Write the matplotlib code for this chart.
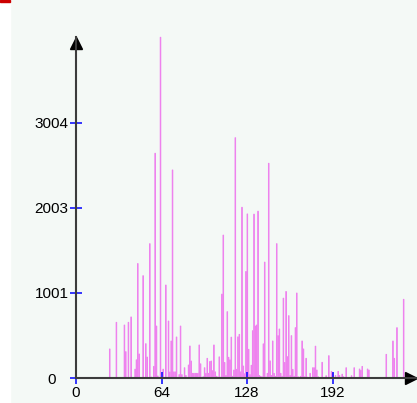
import matplotlib.pyplot as plt
import numpy as np

# histograma: nivel de gris -> cuenta (solo los niveles distintos de cero)
niveles = [25, 30, 36, 37, 39, 41, 44, 45, 46, 47, 50, 52, 53, 55, 56, 58, 59, 60, 61,
           63, 65, 67, 69, 70, 71, 72, 73, 74, 75, 77, 78, 79, 81, 82, 84, 85, 86,
           87, 88, 89, 90, 91, 92, 93, 94, 95, 96, 97, 98, 99, 100, 101, 102, 103,
           104, 105, 106, 107, 108, 109, 110, 111, 112, 113, 114, 115, 116, 117,
           118, 119, 120, 121, 122, 123, 124, 125, 126, 127, 128, 129, 130, 131,
           132, 133, 134, 135, 136, 137, 138, 139, 140, 141, 142, 143, 144, 145,
           146, 147, 148, 149, 150, 151, 152, 153, 154, 155, 156, 157, 158, 159,
           160, 161, 162, 163, 164, 165, 166, 167, 168, 169, 170, 171, 172, 173,
           175, 177, 178, 179, 180, 181, 184, 187, 189, 191, 192, 194, 196, 197,
           199, 200, 202, 206, 208, 212, 213, 214, 218, 219, 232, 237, 238, 240, 245]
cuentas = [342, 656, 624, 310, 656, 719, 104, 214, 1348, 283, 1205, 404, 247, 1582, 12, 137, 2647, 612, 24,
           4013, 104, 1095, 671, 71, 436, 2450, 72, 72, 483, 40, 612, 40, 121, 30, 153, 377, 200,
           55, 55, 55, 55, 55, 389, 167, 10, 15, 121, 55, 232, 55, 195, 200, 86, 389,
           72, 20, 12, 249, 10, 988, 1683, 183, 30, 781, 244, 214, 481, 20,
           94, 2830, 102, 485, 514, 72, 2011, 141, 50, 1255, 1932, 338, 40, 150,
           557, 1930, 612, 624, 1965, 30, 20, 15, 402, 1365, 12, 55, 2529, 202,
           30, 436, 55, 20, 1582, 499, 577, 55, 20, 940, 183, 1019, 251, 734,
           30, 499, 102, 20, 593, 1001, 15, 10, 20, 436, 342, 15, 232, 10,
           55, 121, 121, 375, 94, 15, 185, 27, 263, 78, 55, 30, 78, 30,
           45, 15, 121, 27, 121, 106, 90, 137, 106, 94, 279, 436, 232, 593, 927]

marcas_y = [0, 1001, 2003, 3004]
marcas_x = [0, 64, 128, 192]

fondo = '#f4f9f6'
W, H = 417, 403

fig = plt.figure(figsize=(W / 100, H / 100), dpi=100, facecolor=fondo)
# franja blanca a la izquierda y marca roja arriba
fig.patches.append(plt.Rectangle((0, 0), 10 / W, 1, transform=fig.transFigure, color='white', zorder=0))
fig.patches.append(plt.Rectangle((0, 1 - 2 / H), 10 / W, 2 / H, transform=fig.transFigure, color='#cc0000', zorder=1))

x0, x1 = 76, 416      # pixeles del eje x
y0, y1 = 378, 37      # pixeles del eje y (desde arriba)
ax = fig.add_axes([x0 / W, (H - y0) / H, (x1 - x0) / W, (y0 - y1) / H])
ax.set_facecolor(fondo)

ax.bar(niveles, cuentas, width=0.5, align='edge', color='violet', edgecolor='violet',
       linewidth=0.6, snap=False, clip_on=False)

ax.set_xlim(0, (x1 - x0) / 1.336)
ax.set_ylim(0, (y0 - y1) * 1001 / 85)

for s in ['top', 'right']:
    ax.spines[s].set_visible(False)
for s in ['left', 'bottom']:
    ax.spines[s].set_color('#3c3c3c')
    ax.spines[s].set_linewidth(1.5)

# flechas en los extremos de los ejes
ax.plot([0], [(y0 - 43) / (y0 - y1)], marker='^', color='black', ms=8, transform=ax.transAxes, clip_on=False)
ax.plot([(411 - x0) / (x1 - x0)], [0], marker='>', color='black', ms=8, transform=ax.transAxes, clip_on=False)

ax.set_xticks(marcas_x)
ax.set_yticks(marcas_y)
ax.set_xticklabels([str(v) for v in marcas_x])
ax.set_yticklabels([str(v) for v in marcas_y])
ax.tick_params(axis='both', direction='inout', length=8, width=1.1, color='blue',
               labelsize=11, labelcolor='black')
ax.tick_params(axis='y', pad=13.5)
ax.tick_params(axis='x', pad=1.5)
for lab in ax.get_yticklabels():
    lab.set_ha('center')
    lab.set_family('Liberation Sans')
for lab in ax.get_xticklabels():
    lab.set_family('Liberation Sans')

fig.savefig('out.png', dpi=100, facecolor=fondo)
